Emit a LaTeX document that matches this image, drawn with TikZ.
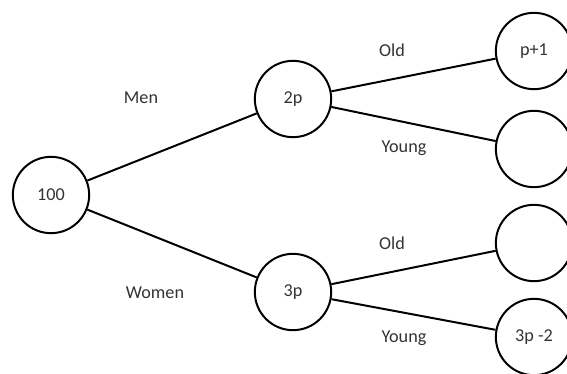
\documentclass[tikz,border=0pt]{standalone}
\usepackage{fontspec}
\setmainfont{Carlito}
\definecolor{textgrey}{rgb}{0.2, 0.2, 0.2}
\tikzset{bubble/.style={draw, circle, line width=1.7pt, minimum size=2.29cm, inner sep=0pt, text=textgrey}}

\begin{document}
\begin{tikzpicture}[x=0.03cm, y=-0.03cm, font=\fontsize{15.5}{18}\selectfont]
            \useasboundingbox (0,0) rectangle (567,374);
            % 
            \node[bubble] (root) at (51,195) {100};
            \node[bubble] (men) at (293,99) {2p};
            \node[bubble] (women) at (293,292) {3p};
            
            
            % 
            \node[bubble] (mold) at (534,51) {p+1};
            \node[bubble] (myoung) at (534,149) {};
            \node[bubble] (wold) at (534,243) {};
            \node[bubble] (wyoung) at (534,337) {3p -2};
            
            
            % Branch labels
            \node[text=textgrey] (lmen) at (141,98) {Men};
            \node[text=textgrey] (lwomen) at (155,293) {Women};
            \node[text=textgrey] (lmold) at (392,50) {Old};
            \node[text=textgrey] (lmyoung) at (404,148) {Young};
            \node[text=textgrey] (lwold) at (392,243) {Old};
            \node[text=textgrey] (lwyoung) at (404,338) {Young};
            
            
            % Branches
            \draw[line width=1.7pt] (root) -- (men);
            \draw[line width=1.7pt] (root) -- (women);
            \draw[line width=1.7pt] (men) -- (mold);
            \draw[line width=1.7pt] (men) -- (myoung);
            \draw[line width=1.7pt] (women) -- (wold);
            \draw[line width=1.7pt] (women) -- (wyoung);
            
            

        \end{tikzpicture}
\end{document}
